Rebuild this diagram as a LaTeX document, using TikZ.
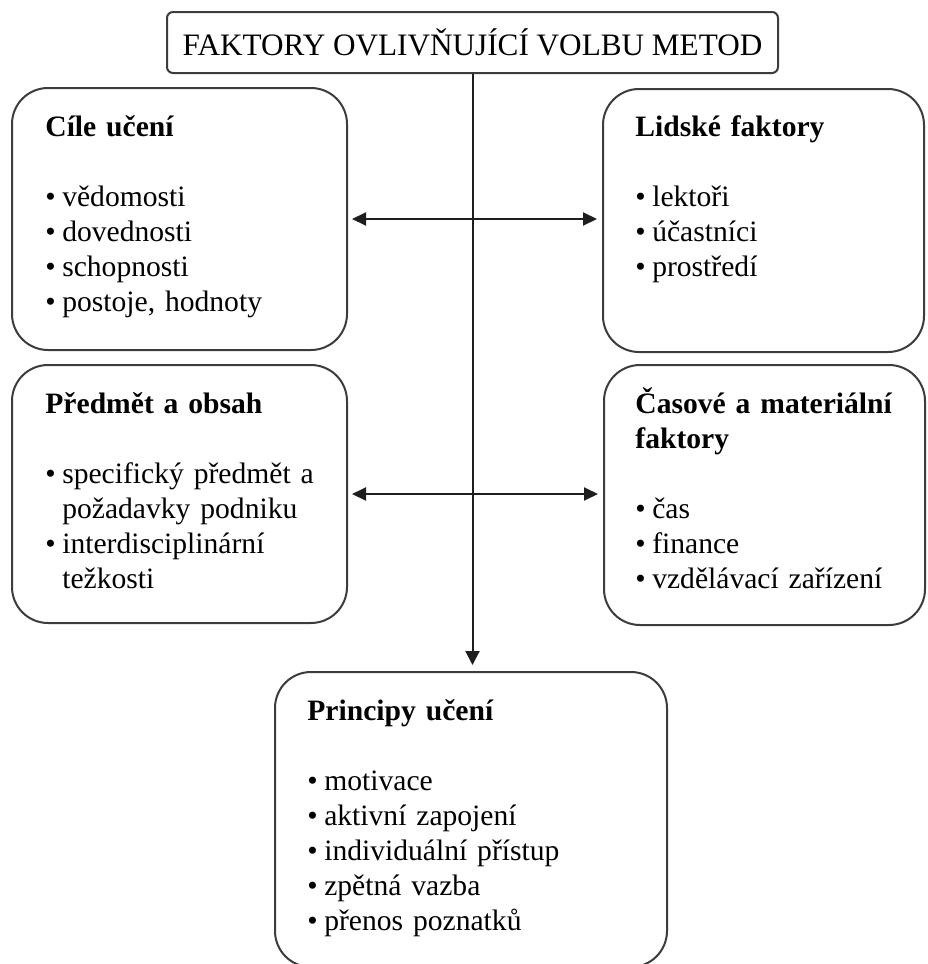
\documentclass[tikz,border=0pt]{standalone}
\usepackage{fontspec}
\setmainfont{Liberation Serif}
\usetikzlibrary{arrows.meta}
\definecolor{Ramecek}{RGB}{60,60,60}
\definecolor{Cara}    {RGB}{30,30,30}
\newcommand{\pismo}{\fontsize{14.8pt}{17.5pt}\selectfont}
\newcommand{\titulek}{\fontsize{15.6pt}{17.5pt}\selectfont}
\newcommand{\odr}{\textbullet\hspace{0.22em}}

\begin{document}
\begin{tikzpicture}[
      x=0.5pt, y=-0.5pt,
      ramec/.style ={draw=Ramecek,line width=1pt,rounded corners=18pt,
                     inner sep=0pt},
      hlavni/.style={draw=Ramecek,line width=1pt,rounded corners=3pt,
                     minimum width=305.5pt,minimum height=30.5pt,font=\titulek},
      obsah/.style ={anchor=base west,inner sep=0pt,text width=185pt,
                     align=left,font=\pismo},
      sipka/.style ={-{Triangle[length=7pt,width=7pt]},Cara,line width=1pt,
                     shorten >=3pt},
      dvoj/.style  ={{Triangle[length=7pt,width=6.5pt]}-{Triangle[length=7pt,width=6.5pt]},
                     Cara,line width=1pt,shorten <=2pt,shorten >=2.5pt}]
      \useasboundingbox (0,0) rectangle (927,964);
      % ramecky
      \node[hlavni] (hlava) at (472.5,42.5){FAKTORY OVLIVŇUJÍCÍ VOLBU METOD};
      \node[ramec,minimum width=167.5pt,minimum height=131pt]   (cile)     at (179.5,219)  {};
      \node[ramec,minimum width=160.5pt,minimum height=131.5pt] (lidske)   at (763.5,220.5){};
      \node[ramec,minimum width=167.5pt,minimum height=129pt]   (predmet)  at (179.5,494)  {};
      \node[ramec,minimum width=160.5pt,minimum height=130pt]   (casove)   at (764.5,495)  {};
      \node[ramec,minimum width=196pt,minimum height=147.5pt]   (principy) at (471,819.5)  {};
      % texty
      \node[obsah] (cileT) at (45,136){\textbf{Cíle učení}\\[17.5pt]
        \odr vědomosti\\
        \odr dovednosti\\
        \odr schopnosti\\
        \odr postoje, hodnoty};
      \node[obsah] (lidskeT) at (635,136){\textbf{Lidské faktory}\\[17.5pt]
        \odr lektoři\\
        \odr účastníci\\
        \odr prostředí};
      \node[obsah] (predmetT) at (45,413){\textbf{Předmět a obsah}\\[17.5pt]
        \odr specifický předmět a\\
        \phantom{\odr}požadavky podniku\\
        \odr interdisciplinární\\
        \phantom{\odr}težkosti};
      \node[obsah] (casoveT) at (635,413){\textbf{Časové a materiální}\\
        \textbf{faktory}\\[17.5pt]
        \odr čas\\
        \odr finance\\
        \odr vzdělávací zařízení};
      \node[obsah] (principyT) at (307,720){\textbf{Principy učení}\\[17.5pt]
        \odr motivace\\
        \odr aktivní zapojení\\
        \odr individuální přístup\\
        \odr zpětná vazba\\
        \odr přenos poznatků};
      % sipky
      \draw[sipka] (hlava.south) -- (hlava.south |- principy.north);
      \draw[dvoj] (cile.east) -- (cile.east -| lidske.west);
      \draw[dvoj] (predmet.east) -- (predmet.east -| casove.west);
    \end{tikzpicture}
\end{document}
